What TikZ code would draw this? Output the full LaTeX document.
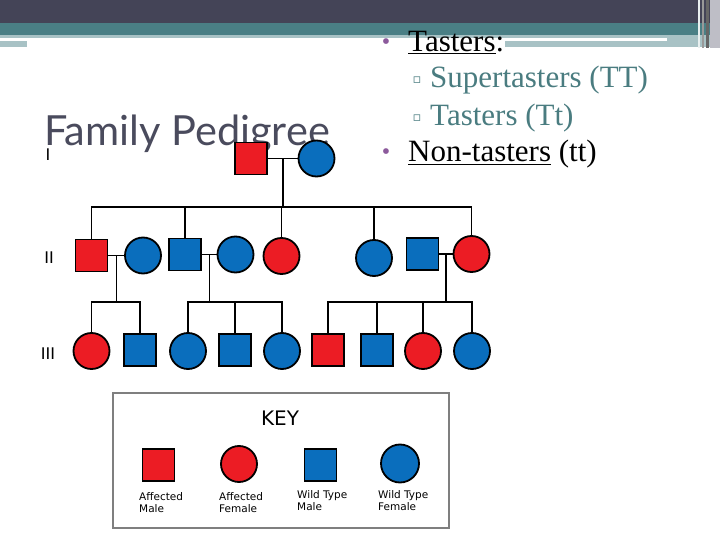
\documentclass[tikz,border=0pt]{standalone}
\usepackage{fontspec}
\setmainfont{Liberation Serif}
\newfontfamily\titlefont{Lato}
\newfontfamily\keyfont{DejaVu Sans}
\newfontfamily\genfont{Liberation Sans}
\usepackage{tikz}
\usetikzlibrary{calc,positioning}

\begin{document}
\begin{tikzpicture}[
  x=1pt, y=-1pt,
  person/.style={draw=black, line width=1.8pt, inner sep=0pt},
  male/.style={person, rectangle, minimum size=32pt},
  female/.style={person, circle, minimum size=36pt},
  affected/.style={fill=pedred},
  wild/.style={fill=pedblue},
  link/.style={line width=1.5pt, draw=black},
  genlabel/.style={font=\genfont\fontsize{17}{17}\selectfont, inner sep=0pt},
  line/.style={anchor=base west, inner sep=0pt, font=\fontsize{31}{37}\selectfont},
  dot/.style={font=\fontsize{24}{24}\selectfont, text=bulletpurple, inner sep=0pt},
  subdot/.style={font=\keyfont\fontsize{13}{13}\selectfont, text=subteal, inner sep=0pt},
  keylabel/.style={font=\keyfont\fontsize{10.5}{12}\selectfont, align=left,
    anchor=north west, inner sep=0pt}
]
\definecolor{pedred}{HTML}{EC1C24}
\definecolor{pedblue}{HTML}{0A6EBD}
\definecolor{hdrdark}{HTML}{444457}
\definecolor{hdrteal}{HTML}{4A7F85}
\definecolor{hdrlight}{HTML}{A8C2C5}
\definecolor{hdrgrey}{HTML}{BEBEC6}
\definecolor{titlegrey}{HTML}{4A4B5D}
\definecolor{bulletpurple}{HTML}{8C5A9C}
\definecolor{subteal}{HTML}{4A7C80}
\definecolor{keygrey}{HTML}{7F7F7F}

\useasboundingbox (0,0) rectangle (720,540);

% Slide header bands
\fill[hdrdark] (0,0) rectangle (720,23);
\fill[hdrteal] (0,23) rectangle (720,35);
\fill[hdrlight] (0,35) rectangle (720,41);
\fill[hdrlight] (0,41) rectangle (27,47);
\fill[hdrlight] (505,41) rectangle (720,47);
\fill[white] (0,38) rectangle (667,41);
\fill[hdrgrey] (710,0) rectangle (720,48);
\fill[white!75!hdrlight] (698,0) rectangle (700,48);
\fill[black!40] (702,0) rectangle (704,48);
\fill[black!60] (706,0) rectangle (709,48);

% Title
\node[anchor=base west, inner sep=0pt, text=titlegrey,
  font=\titlefont\fontsize{41.5}{41.5}\selectfont] (title) at (44,146) {Family Pedigree};

% Taster list
\node[dot] (d1) at (386,44) {•};
\node[line] (t1) at (408,52) {\underline{Tasters}:};
\node[subdot] (s1) at (417,80) {▫};
\node[line, text=subteal] (t2) at (430,88) {Supertasters (TT)};
\node[subdot] (s2) at (417,118) {▫};
\node[line, text=subteal] (t3) at (430,126) {Tasters (Tt)};
\node[dot] (d2) at (386,154) {•};
\node[line] (t4) at (408,162) {\underline{Non-tasters} (tt)};

% Generation labels
\node[genlabel] (genI) at (48,155) {I};
\node[genlabel] (genII) at (49,258) {II};
\node[genlabel] (genIII) at (48,354) {III};

% Generation I
\node[male, affected] (g1m) at (251,158.5) {};
\node[female, wild] (g1f) at (316.5,158.5) {};
\draw[link] (g1m) -- (g1f);
\coordinate (g1mar) at ($(g1m.east)!0.5!(g1f.west)$);
\coordinate (sib2) at (0,207);
\coordinate (sib3) at (0,302);

% Generation II
\node[male, affected] (g2a) at (91.5,255.5) {};
\node[female, wild] (g2b) at (143,255.5) {};
\node[male, wild] (g2c) at (185,254.5) {};
\node[female, wild] (g2d) at (235.5,254.5) {};
\node[female, affected] (g2e) at (281.5,256) {};
\node[female, wild] (g2f) at (374,258) {};
\node[male, wild] (g2g) at (422.5,254) {};
\node[female, affected] (g2h) at (471.5,254) {};

\draw[link] (g1mar) -- (g1mar |- sib2);
\draw[link] (g2a.north) |- (g2h.north |- sib2) -- (g2h.north);
\foreach \k in {g2c,g2e,g2f}
  \draw[link] (\k.north) -- (\k.north |- sib2);

\draw[link] (g2a) -- (g2b);
\draw[link] (g2c) -- (g2d);
\draw[link] (g2g) -- (g2h);
\coordinate (m2ab) at ($(g2a.east)!0.5!(g2b.west)$);
\coordinate (m2cd) at ($(g2c.east)!0.5!(g2d.west)$);
\coordinate (m2gh) at ($(g2g.east)!0.5!(g2h.west)$);

% Generation III
\node[female, affected] (g3a) at (91.5,351) {};
\node[male, wild] (g3b) at (140,350) {};
\node[female, wild] (g3c) at (188,351) {};
\node[male, wild] (g3d) at (235,350) {};
\node[female, wild] (g3e) at (282,351) {};
\node[male, affected] (g3f) at (328,350) {};
\node[male, wild] (g3g) at (377,350) {};
\node[female, affected] (g3h) at (423,351) {};
\node[female, wild] (g3i) at (472,351) {};

\draw[link] (m2ab) -- (m2ab |- sib3);
\draw[link] (g3a.north) |- (g3b.north |- sib3) -- (g3b.north);
\draw[link] (m2cd) -- (m2cd |- sib3);
\draw[link] (g3c.north) |- (g3e.north |- sib3) -- (g3e.north);
\draw[link] (g3d.north) -- (g3d.north |- sib3);
\draw[link] (m2gh) -- (m2gh |- sib3);
\draw[link] (g3f.north) |- (g3i.north |- sib3) -- (g3i.north);
\foreach \k in {g3g,g3h}
  \draw[link] (\k.north) -- (\k.north |- sib3);

% Key
\node[draw=keygrey, line width=1.5pt, minimum width=336pt, minimum height=135pt,
  inner sep=0pt] (keybox) at (281,460.5) {};
\node[font=\keyfont\fontsize{20}{20}\selectfont, inner sep=0pt] (keyhead) at (280,418) {KEY};
\node[male, affected] (kam) at (158.5,465) {};
\node[female, affected] (kaf) at (239,464) {};
\node[male, wild] (kwm) at (320.5,465) {};
\node[female, wild, minimum size=38pt] (kwf) at (400,463.5) {};
\node[keylabel] (kamt) at (139,492) {Affected\\Male};
\node[keylabel] (kaft) at (219,492) {Affected\\Female};
\node[keylabel] (kwmt) at (297,490) {Wild Type\\Male};
\node[keylabel] (kwft) at (378,490) {Wild Type\\Female};
\end{tikzpicture}
\end{document}
